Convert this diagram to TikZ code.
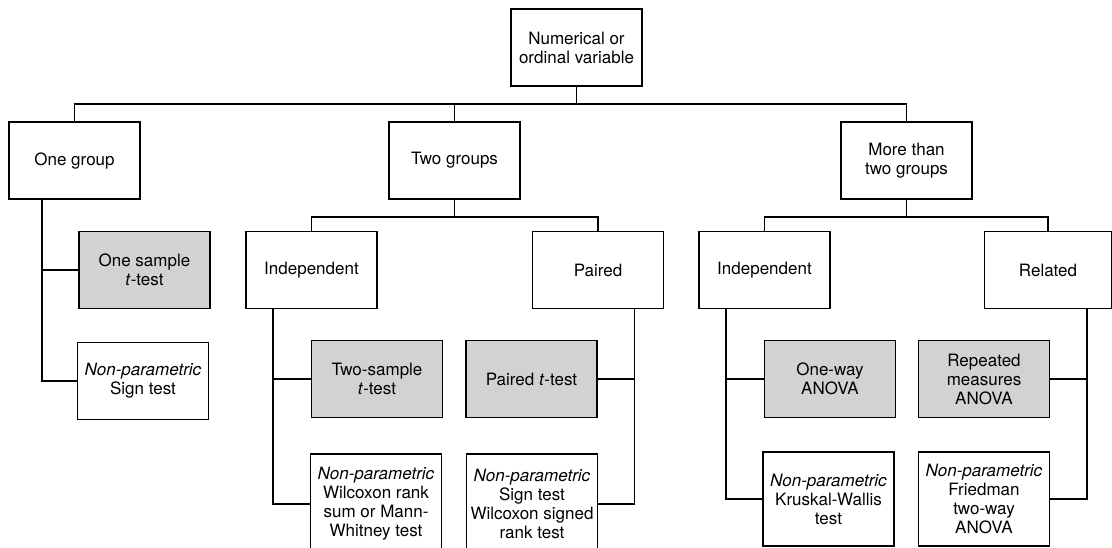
\documentclass[tikz,border=0pt]{standalone}
\usepackage{fontspec}
\setmainfont{TeX Gyre Heros}

\begin{document}
\begin{tikzpicture}[x=1pt, y=-1pt, line width=1.5pt,
    box/.style={draw, fill=white, minimum width=131pt, minimum height=77pt, inner sep=2pt,
        align=center, font=\fontsize{17}{19}\selectfont},
    testbox/.style={box, fill=gray!35},
    npbox/.style={box, minimum height=94pt}]
    \clip (0,0) rectangle (1112,547);

    \node[box] (root) at (576.5,47.5) {Numerical or\\ordinal variable};

    \node[box] (one) at (74.5,160.5) {One group};
    \node[box] (two) at (454.5,160.5) {Two groups};
    \node[box] (more) at (906.5,160.5) {More than\\two groups};

    \node[box] (indepL) at (311.5,270) {Independent};
    \node[box] (paired) at (598,270) {Paired};
    \node[box] (indepR) at (764.5,270) {Independent};
    \node[box, minimum width=127pt] (related) at (1048,270) {Related};

    \node[testbox] (onesample) at (144.5,270) {One sample\\\textit{t}-test};
    \node[box] (signtest) at (143,381) {\textit{Non-parametric}\\Sign test};

    \node[testbox] (twosample) at (377,379) {Two-sample\\\textit{t}-test};
    \node[box, minimum height=100pt] (wilcoxon) at (376,504) {\textit{Non-parametric}\\Wilcoxon rank\\sum or Mann-\\Whitney test};
    \node[testbox] (pairedt) at (531.5,379) {Paired \textit{t}-test};
    \node[box, minimum height=100pt] (signwil) at (532,504) {\textit{Non-parametric}\\Sign test\\Wilcoxon signed\\rank test};

    \node[testbox] (oneway) at (830,379) {One-way\\ANOVA};
    \node[npbox] (kruskal) at (828.5,499) {\textit{Non-parametric}\\Kruskal-Wallis\\test};
    \node[testbox] (repeated) at (984,379) {Repeated\\measures\\ANOVA};
    \node[npbox] (friedman) at (984,499) {\textit{Non-parametric}\\Friedman\\two-way\\ANOVA};

    \coordinate (bus) at ([yshift=-17pt]root.south);
    \draw (root.south) -- (bus);
    \draw (one.north) |- (bus) -| (more.north);
    \draw (two.north) -- (two.north |- bus);

    \coordinate (twobus) at ([yshift=-17pt]two.south);
    \draw (two.south) -- (twobus);
    \draw (indepL.north) |- (twobus) -| (paired.north);

    \coordinate (morebus) at ([yshift=-17pt]more.south);
    \draw (more.south) -- (morebus);
    \draw (indepR.north) |- (morebus) -| (related.north);

    \foreach \up/\dx/\first/\second/\side in {one/-32.5/onesample/signtest/west,
        indepL/-38.5/twosample/wilcoxon/west, paired/36.5/pairedt/signwil/east,
        indepR/-38.5/oneway/kruskal/west, related/39/repeated/friedman/east}
    {
    \coordinate (\up-leg) at ([xshift=\dx pt]\up.south);
    \draw (\up-leg) |- (\second.\side);
    \draw (\first.\side) -- (\first.\side -| \up-leg);
    }
\end{tikzpicture}
\end{document}
